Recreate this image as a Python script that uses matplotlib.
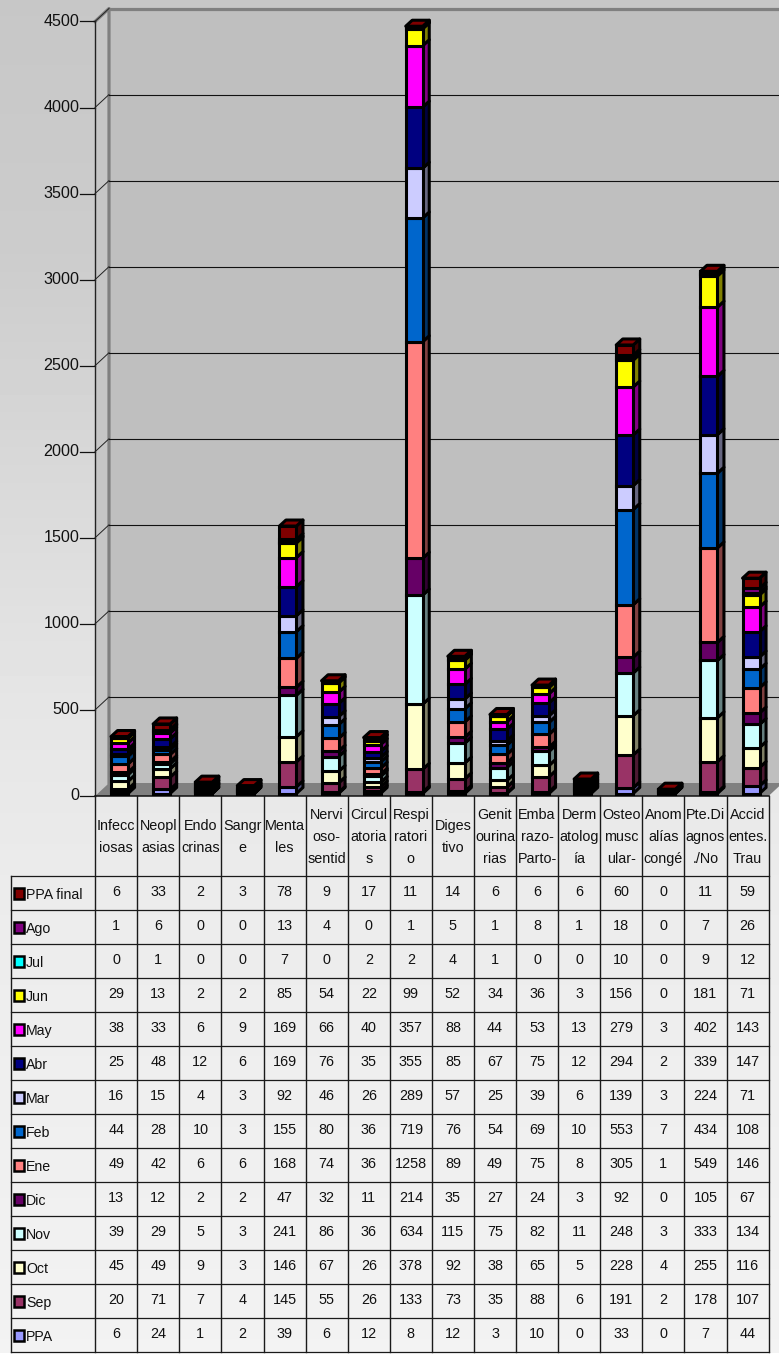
import numpy as np
import matplotlib
matplotlib.use("Agg")
import matplotlib.pyplot as plt
from matplotlib.patches import Polygon, Rectangle
from matplotlib.colors import to_rgb

plt.rcParams['font.family'] = ['Liberation Sans', 'DejaVu Sans']

categories = ["Infecc\niosas", "Neopl\nasias", "Endo\ncrinas", "Sangr\ne", "Menta\nles",
              "Nervi\noso-\nsentid", "Circul\natoria\ns", "Respi\nratori\no", "Diges\ntivo",
              "Genit\nourina\nrias", "Emba\nrazo-\nParto-", "Derm\natolog\nía",
              "Osteo\nmusc\nular-", "Anom\nalías\ncongé", "Pte.Di\nagnos\n./No",
              "Accid\nentes.\nTrau"]

ppa       = [6, 24, 1, 2, 39, 6, 12, 8, 12, 3, 10, 0, 33, 0, 7, 44]
sep       = [20, 71, 7, 4, 145, 55, 26, 133, 73, 35, 88, 6, 191, 2, 178, 107]
oct_      = [45, 49, 9, 3, 146, 67, 26, 378, 92, 38, 65, 5, 228, 4, 255, 116]
nov       = [39, 29, 5, 3, 241, 86, 36, 634, 115, 75, 82, 11, 248, 3, 333, 134]
dic       = [13, 12, 2, 2, 47, 32, 11, 214, 35, 27, 24, 3, 92, 0, 105, 67]
ene       = [49, 42, 6, 6, 168, 74, 36, 1258, 89, 49, 75, 8, 305, 1, 549, 146]
feb       = [44, 28, 10, 3, 155, 80, 36, 719, 76, 54, 69, 10, 553, 7, 434, 108]
mar       = [16, 15, 4, 3, 92, 46, 26, 289, 57, 25, 39, 6, 139, 3, 224, 71]
abr       = [25, 48, 12, 6, 169, 76, 35, 355, 85, 67, 75, 12, 294, 2, 339, 147]
may       = [38, 33, 6, 9, 169, 66, 40, 357, 88, 44, 53, 13, 279, 3, 402, 143]
jun       = [29, 13, 2, 2, 85, 54, 22, 99, 52, 34, 36, 3, 156, 0, 181, 71]
jul       = [0, 1, 0, 0, 7, 0, 2, 2, 4, 1, 0, 0, 10, 0, 9, 12]
ago       = [1, 6, 0, 0, 13, 4, 0, 1, 5, 1, 8, 1, 18, 0, 7, 26]
ppa_final = [6, 33, 2, 3, 78, 9, 17, 11, 14, 6, 6, 6, 60, 0, 11, 59]

series_names = ["PPA", "Sep", "Oct", "Nov", "Dic", "Ene", "Feb", "Mar", "Abr", "May",
                "Jun", "Jul", "Ago", "PPA final"]
series_values = [ppa, sep, oct_, nov, dic, ene, feb, mar, abr, may, jun, jul, ago, ppa_final]
series_colors = ["#9999FF", "#993366", "#FFFFCC", "#CCFFFF", "#660066", "#FF8080", "#0066CC",
                 "#CCCCFF", "#000080", "#FF00FF", "#FFFF00", "#00FFFF", "#800080", "#800000"]
y_ticks = [0, 500, 1000, 1500, 2000, 2500, 3000, 3500, 4000, 4500]

W, H = 779, 1359
fig = plt.figure(figsize=(W / 100, H / 100), dpi=100, facecolor="white")

# page background
bg = fig.add_axes([0, (H - 1353) / H, 1, 1353 / H], zorder=0)
rows_px = np.arange(1353)
shade = np.interp(rows_px, [0, 250, 700, 900, 1353], [0.78, 0.80, 0.90, 0.925, 0.95])
bg.imshow(shade[:, None], cmap="gray", vmin=0, vmax=1, aspect="auto")
bg.axis("off")

# chart axes : front plane
X0, X1, Y0, Y1 = 95, 768.6, 796, 21.5
ax = fig.add_axes([X0 / W, (H - Y0) / H, (X1 - X0) / W, (Y0 - Y1) / H], zorder=1)
ax.set_xlim(0, 16)
ax.set_ylim(0, 4500)
ax.axis("off")
px_x = 16 / (X1 - X0)
px_y = 4500 / (Y0 - Y1)
WX, WY = 14 * px_x, 13 * px_y           # depth of the walls
BX, BY = 6.5 * px_x, 6 * px_y           # depth of the bars
LIFT = 2.5 * px_y
SHIFT = 3.5 * px_x
BAR_W = 17 * px_x
EDGE = 2.2

def poly(pts, **kw):
    ax.add_patch(Polygon(pts, closed=True, clip_on=False, **kw))

# walls
poly([(WX, WY), (16 + 2, WY), (16 + 2, 4500 + WY), (WX, 4500 + WY)], fc="#BFBFBF", ec="none", zorder=1)
poly([(0, 0), (WX, WY), (WX, 4500 + WY), (0, 4500)], fc="#C6C6C6", ec="none", zorder=1)
poly([(0, 0), (16, 0), (16 + WX, WY), (WX, WY)], fc="#808080", ec="none", zorder=1)
ax.plot([0, WX, WX], [4500, 4500 + WY, WY], color="#808080", lw=2.3, clip_on=False, zorder=2)
ax.plot([WX, 16 + 2], [4500 + WY] * 2, color="#808080", lw=2.3, clip_on=False, zorder=2)

# grid and ticks
for t in y_ticks:
    if 0 < t < 4500:
        ax.plot([WX, 16 + 2], [t + WY] * 2, color="#111111", lw=0.8, clip_on=False, zorder=2)
    if t > 0:
        ax.plot([0, WX], [t, t + WY], color="#222222", lw=0.7, clip_on=False, zorder=2)
    ax.plot([-15 * px_x, 0], [t, t], color="#111111", lw=0.9, clip_on=False, zorder=3)
    ax.text(-15.5 * px_x, t, str(t), ha="right", va="center", fontsize=11.6, color="#111111", zorder=3)
ax.plot([0, 0], [0, 4500], color="#222222", lw=1.0, clip_on=False, zorder=3)
ax.plot([0, 16], [0, 0], color="#111111", lw=1.1, clip_on=False, zorder=3)

# stacked 3-D bars
def darker(c, f=0.5):
    return tuple(v * f for v in to_rgb(c))

vals = np.array(series_values, dtype=float)
xc = np.arange(16) + 0.5 + SHIFT
bottom = np.zeros(16) + LIFT
for vrow, col in zip(vals, series_colors):
    ax.bar(xc, vrow, BAR_W, bottom=bottom, color=col, edgecolor="black", linewidth=EDGE,
           clip_on=False, zorder=5)
    for x, b, v in zip(xc, bottom, vrow):
        if v > 0:
            xr = x + BAR_W / 2
            poly([(xr, b), (xr + BX, b + BY), (xr + BX, b + v + BY), (xr, b + v)],
                 fc=darker(col), ec="black", lw=EDGE, joinstyle="round", zorder=4)
    bottom = bottom + vrow

top_color = series_colors[-1]
for x, b in zip(xc, bottom):
    xl, xr = x - BAR_W / 2, x + BAR_W / 2
    poly([(xl, b), (xr, b), (xr + BX, b + BY), (xl + BX, b + BY)],
         fc=top_color, ec="black", lw=EDGE, joinstyle="round", zorder=6)

# data table
TY1 = 1352
tb = fig.add_axes([11 / W, (H - TY1) / H, (X1 - 11) / W, (TY1 - Y0) / H], zorder=2)
head = (876 - Y0) / 34.0
tb.set_xlim(-2, 16)
tb.set_ylim(14, -head)
tb.axis("off")
LC = "#1A1A1A"
for c in range(0, 17):
    tb.plot([c, c], [-head, 14], color=LC, lw=1.0, clip_on=False)
tb.plot([-2, -2], [0, 14], color=LC, lw=1.0, clip_on=False)
for r in range(0, 15):
    tb.plot([-2, 16], [r, r], color=LC, lw=0.9, clip_on=False)

for i, name in enumerate(categories):
    tb.text(i + 0.5, -head / 2 + 0.02, name, ha="center", va="center", fontsize=10.4,
            linespacing=1.73, color="#111111")

for r, idx in enumerate(range(13, -1, -1)):
    yc = r + 0.5
    kx, kw = -2 + 3 * px_x, 10 * px_x
    kh = 11 / 34.0
    tb.add_patch(Rectangle((kx - 0.3 * px_x, yc - kh / 2 + 0.02), kw + 1 * px_x, kh + 0.03, fc="#888888", ec="none", zorder=3))
    tb.add_patch(Rectangle((kx, yc - kh / 2), kw, kh, fc=series_colors[idx], ec="black", lw=1.8, zorder=4))
    tb.text(-2 + 15 * px_x, yc + 0.05, series_names[idx], ha="left", va="center", fontsize=10.2, color="#111111")
    for c, v in enumerate(series_values[idx]):
        tb.text(c + 0.5, yc - 0.04, str(v), ha="center", va="center", fontsize=10.4, color="#111111")

fig.savefig("out.png", dpi=100, facecolor="white")
